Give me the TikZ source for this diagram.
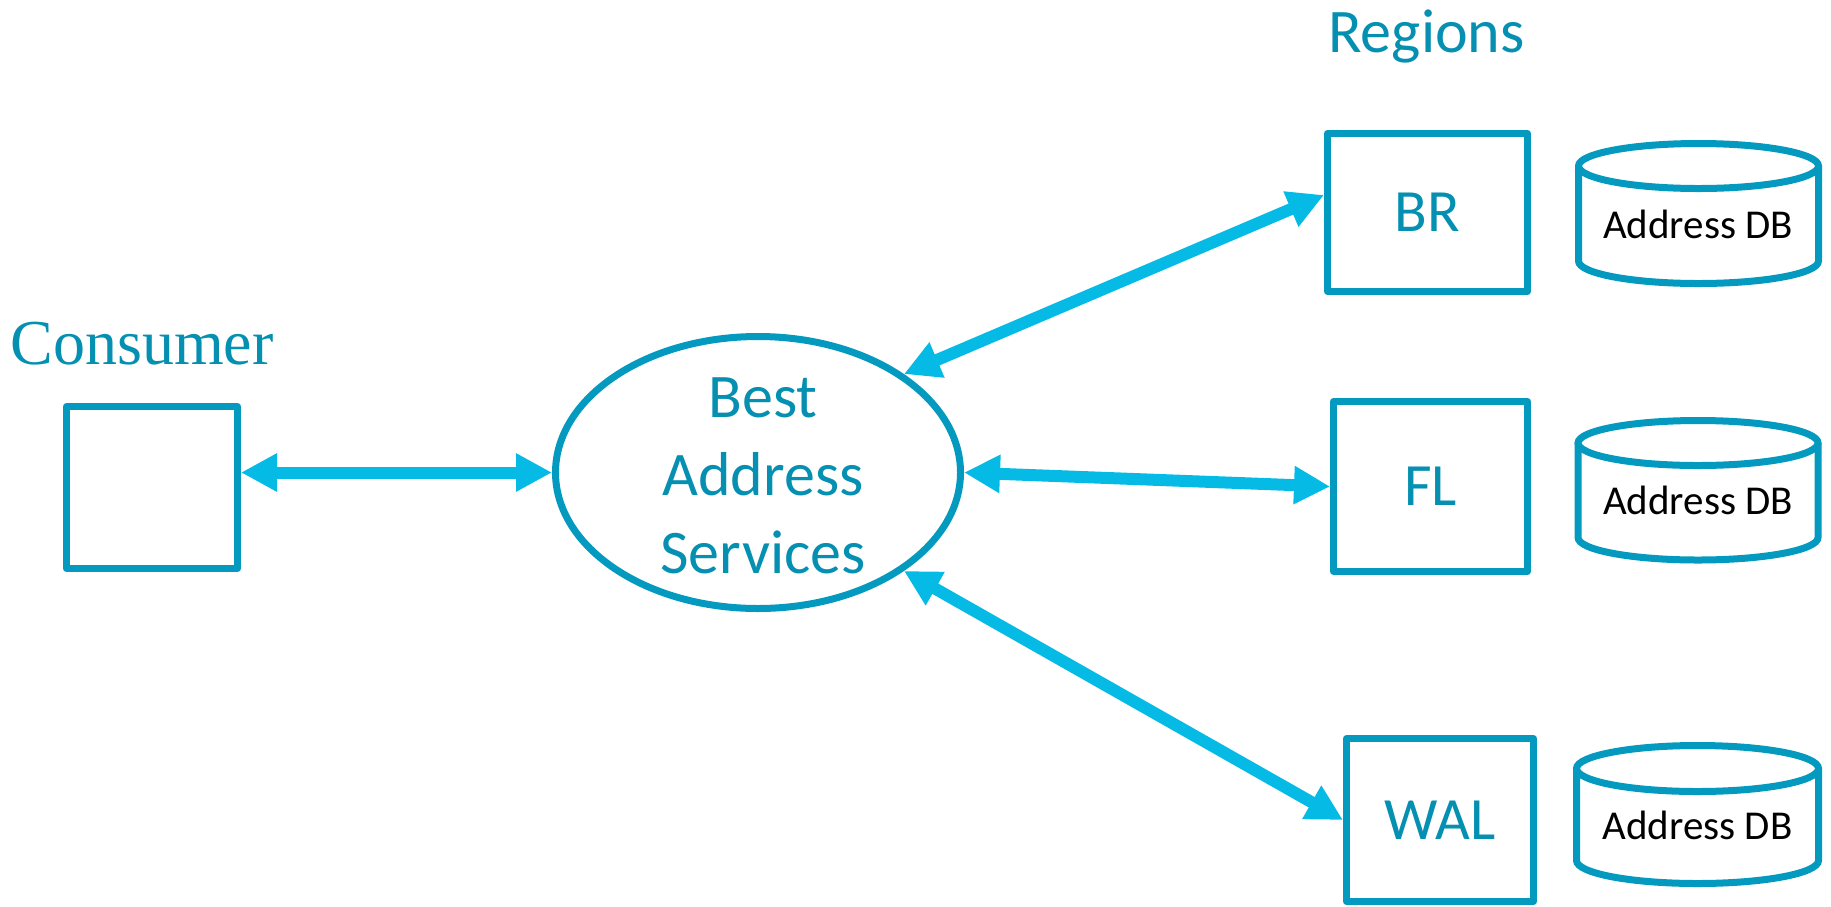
\documentclass[tikz,border=0pt]{standalone}
\usepackage{fontspec}
\setmainfont{Carlito}
\newfontfamily\conserif{Liberation Serif}
\usetikzlibrary{arrows.meta,shapes.geometric,calc}
\definecolor{tealline}{HTML}{049ABF}
\definecolor{tealtxt}{HTML}{0590B2}
\definecolor{cyanarrow}{HTML}{05BBE6}
\begin{document}
\begin{tikzpicture}[x=1pt,y=-1pt,
  regbox/.style={draw=tealline, line width=7pt, line join=round, rectangle, inner sep=0pt,
    text=tealtxt, font=\fontsize{60}{72}\selectfont},
  conn/.style={draw=cyanarrow, line width=12pt,
    {Triangle[length=36pt,width=36pt]}-{Triangle[length=36pt,width=36pt]}},
  dbline/.style={draw=tealline, line width=7pt},
  dbtext/.style={anchor=base, text=black, font=\fontsize{41}{49}\selectfont, inner sep=0pt},
  bigtext/.style={text=tealtxt, inner sep=0pt}]
\useasboundingbox (0,0) rectangle (1831,906);

% titles
\node[bigtext, anchor=base, font=\fontsize{62}{74}\selectfont] (regions) at (1426.5,52) {Regions};
\node[bigtext, anchor=base, font=\conserif\fontsize{64}{76}\selectfont] (consumer) at (142,364) {Consumer};

% consumer box
\node[regbox, minimum width=171pt, minimum height=162pt] (cons) at (152,487.5) {};

% central ellipse
\node[ellipse, draw=tealline, line width=7pt, inner sep=0pt,
      minimum width=405pt, minimum height=272pt] (bas) at (758,472.5) {};
\node[bigtext, align=center, font=\fontsize{62}{78}\selectfont] (bastext) at (763,476) {Best\\Address\\Services};

% region boxes
\node[regbox, minimum width=200pt, minimum height=158pt] (br) at (1427.5,212.5) {BR};
\node[regbox, minimum width=194pt, minimum height=170pt] (fl) at (1430.5,486.5) {FL};
\node[regbox, minimum width=187pt, minimum height=163pt] (wal) at (1440,820) {WAL};

% databases
\foreach \cx/\ct/\cb/\rx/\ry/\tb in {1698.5/166/261/120/22.5/238, 1698/443/537.5/120/22.5/514, 1697.5/768.5/860.5/121/23/839}{
  \draw[dbline] (\cx,\ct) ellipse [x radius=\rx pt, y radius=\ry pt];
  \draw[dbline] (\cx-\rx,\ct) -- (\cx-\rx,\cb) arc (180:360:\rx pt and \ry pt) -- (\cx+\rx,\ct);
}
\node[dbtext] (db1) at (1698,238) {Address DB};
\node[dbtext] (db2) at (1698,514) {Address DB};
\node[dbtext] (db3) at (1697.5,839) {Address DB};

% connectors
\draw[conn] ([yshift=15pt]cons.east) -- (bas.west);
\draw[conn] (bas.34) -- ([yshift=17.5pt]br.west);
\draw[conn] (bas.east) -- (fl.west);
\draw[conn] (bas.-34) -- (wal.west);
\end{tikzpicture}
\end{document}
